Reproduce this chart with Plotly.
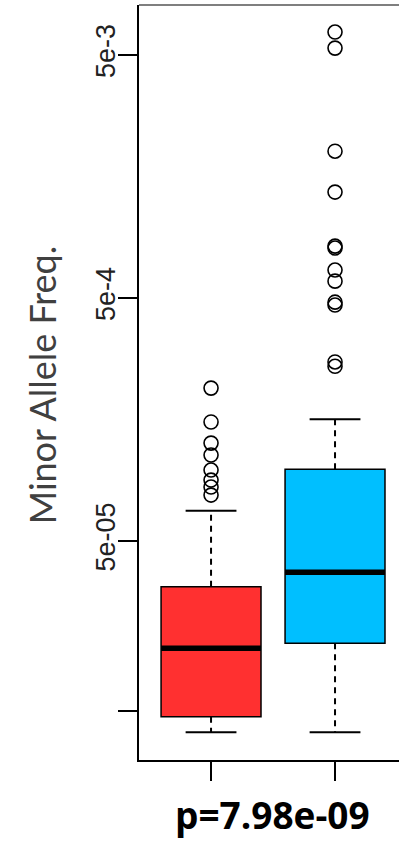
import plotly.graph_objects as go

# ---- data ----
groups = ["group1", "group2"]
positions = [1, 2]
q1 = [9.46e-6, 1.90e-5]
median = [1.81e-5, 3.72e-5]
q3 = [3.24e-5, 9.87e-5]
lower_whisker = [8.17e-6, 8.17e-6]
upper_whisker = [6.67e-5, 1.585e-4]
outliers_red = [2.13e-4, 1.545e-4, 1.265e-4, 1.13e-4, 9.80e-5, 8.91e-5, 8.34e-5, 7.73e-5]
outliers_blue = [6.22e-3, 5.34e-3, 2.01e-3, 1.365e-3, 8.18e-4, 8.03e-4, 6.52e-4,
                 5.87e-4, 4.81e-4, 4.68e-4, 2.73e-4, 2.62e-4]
outliers = [outliers_red, outliers_blue]
ytick_vals = [1e-5, 5e-5, 5e-4, 5e-3]
ytick_text = ["", "5e-05", "5e-4", "5e-3"]
p_label = "p=7.98e-09"
y_title = "Minor Allele Freq."

# ---- style ----
fills = ["#FF3030", "#00BFFF"]
box_w = 0.806
cap_half = 0.205
tick_font = "Liberation Sans, Arial, sans-serif"
title_font = "Lato, Open Sans, sans-serif"
p_font = "Open Sans, Noto Sans, sans-serif"

fig = go.Figure()

for i, pos in enumerate(positions):
    # whiskers (dashed)
    fig.add_trace(go.Scatter(
        x=[pos, pos, None, pos, pos],
        y=[q3[i], upper_whisker[i], None, q1[i], lower_whisker[i]],
        mode="lines", line=dict(color="black", width=2, dash="6px,5px"),
        hoverinfo="skip", showlegend=False))
    # caps
    fig.add_trace(go.Scatter(
        x=[pos - cap_half, pos + cap_half, None, pos - cap_half, pos + cap_half],
        y=[upper_whisker[i], upper_whisker[i], None, lower_whisker[i], lower_whisker[i]],
        mode="lines", line=dict(color="black", width=2),
        hoverinfo="skip", showlegend=False))

for i, pos in enumerate(positions):
    fig.add_trace(go.Box(
        x=[pos], q1=[q1[i]], median=[median[i]], q3=[q3[i]],
        lowerfence=[q1[i]], upperfence=[q3[i]],
        width=box_w, fillcolor=fills[i], line=dict(color="black", width=1.5),
        whiskerwidth=0, boxpoints=False, name=groups[i], showlegend=False))

for i, pos in enumerate(positions):
    # thick median
    fig.add_trace(go.Scatter(
        x=[pos - box_w / 2, pos + box_w / 2], y=[median[i], median[i]],
        mode="lines", line=dict(color="black", width=5.5),
        hoverinfo="skip", showlegend=False))
    # outliers
    fig.add_trace(go.Scatter(
        x=[pos] * len(outliers[i]), y=outliers[i], mode="markers",
        marker=dict(symbol="circle-open", size=14, color="black", line=dict(width=1.6)),
        showlegend=False))

fig.update_layout(
    width=399, height=843,
    margin=dict(l=139, r=0, t=5, b=83),
    paper_bgcolor="white", plot_bgcolor="white",
    showlegend=False,
    xaxis=dict(range=[0.419, 2.516], tickvals=positions, ticktext=["", ""],
               ticks="outside", ticklen=19, tickwidth=2, tickcolor="black",
               showline=True, linecolor="black", linewidth=2,
               showgrid=False, zeroline=False),
    yaxis=dict(type="log", range=[-5.202, -2.095], tickvals=ytick_vals, ticktext=ytick_text,
               ticks="outside", ticklen=19, tickwidth=2, tickcolor="black",
               tickangle=-90, tickfont=dict(family=tick_font, size=27, color="#222"),
               ticklabelstandoff=-8,
               showline=True, linecolor="black", linewidth=2,
               showgrid=False, zeroline=False),
    shapes=[dict(type="line", xref="paper", yref="paper", x0=0, x1=1, y0=1, y1=1,
                 line=dict(color="#555", width=1.5))],
    annotations=[
        dict(text=y_title, xref="paper", yref="paper", x=-0.375, y=0.497,
             xanchor="center", yanchor="middle", textangle=-90, showarrow=False,
             font=dict(family=title_font, size=36, color="#404040")),
        dict(text="<b>" + p_label + "</b>", xref="paper", yref="paper", x=0.515, y=-0.0728,
             xanchor="center", yanchor="middle", showarrow=False,
             font=dict(family=p_font, size=37, color="black")),
    ],
)

fig.write_html("out.html", config={"displayModeBar": False},
               post_script="document.body.style.margin='0';")
